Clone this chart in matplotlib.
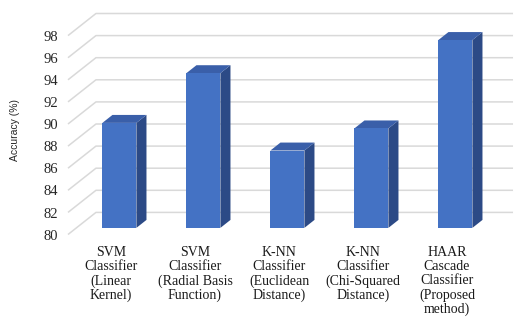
import matplotlib.pyplot as plt
from matplotlib.patches import Polygon

categories = [
    "SVM\nClassifier\n(Linear\nKernel)",
    "SVM\nClassifier\n(Radial Basis\nFunction)",
    "K-NN\nClassifier\n(Euclidean\nDistance)",
    "K-NN\nClassifier\n(Chi-Squared\nDistance)",
    "HAAR\nCascade\nClassifier\n(Proposed\nmethod)",
]
accuracy = [89.5, 94.0, 87.0, 89.0, 97.0]
y_ticks = [80, 82, 84, 86, 88, 90, 92, 94, 96, 98]

BASE = 80
# oblique offset of the back wall, in data units (categories, %)
DX, DY = 0.333, 2.0
BAR_W = 0.405
D_FRONT, D_BACK = 0.30, 0.66

FRONT = "#4472c4"
SIDE = "#2c4a86"
TOP = "#3a5fa9"
GRID = "#d9d9d9"

fig = plt.figure(figsize=(5.15, 3.23), dpi=100)
ax = fig.add_axes([0, 0, 1, 1])
ax.set_xlim(-111 / 84, (515 - 111) / 84)
ax.set_ylim(BASE - (323 - 234.5) / 11.05, BASE + 234.5 / 11.05)
ax.axis("off")

x_left, x_right = -0.512, 4.786

# gridlines: diagonal on the left side wall then along the back wall
for t in y_ticks:
    ax.plot([x_left, x_left + DX, x_right], [t, t + DY, t + DY],
            color=GRID, lw=1.1, zorder=1, solid_capstyle="butt")
    ax.text(-53 / 84, t - 0.15, str(t), ha="right", va="center",
            fontsize=10.5, family="Liberation Serif", color="#262626")

for i, v in enumerate(accuracy):
    c = i + D_FRONT * DX
    y0 = BASE + D_FRONT * DY
    y1 = v + D_FRONT * DY
    ddx = (D_BACK - D_FRONT) * DX
    ddy = (D_BACK - D_FRONT) * DY
    l, r = c - BAR_W / 2, c + BAR_W / 2
    ax.add_patch(Polygon([(r, y0), (r, y1), (r + ddx, y1 + ddy), (r + ddx, y0 + ddy)],
                         closed=True, facecolor=SIDE, edgecolor="none", zorder=3))
    ax.add_patch(Polygon([(l, y1), (r, y1), (r + ddx, y1 + ddy), (l + ddx, y1 + ddy)],
                         closed=True, facecolor=TOP, edgecolor="none", zorder=3))
    ax.add_patch(Polygon([(l, y0), (r, y0), (r, y1), (l, y1)],
                         closed=True, facecolor=FRONT, edgecolor="none", zorder=4))
    ax.text(i, BASE - 11.5 / 11.05, categories[i], ha="center", va="top",
            fontsize=10, family="Liberation Serif", linespacing=1.1, color="#1a1a1a")

fig.text(15 / 515, 1 - 130 / 323, "Accuracy (%)", rotation=90, ha="center", va="center",
         fontsize=7.5, family="Liberation Sans", color="#262626")

fig.savefig("out.png", dpi=100)
